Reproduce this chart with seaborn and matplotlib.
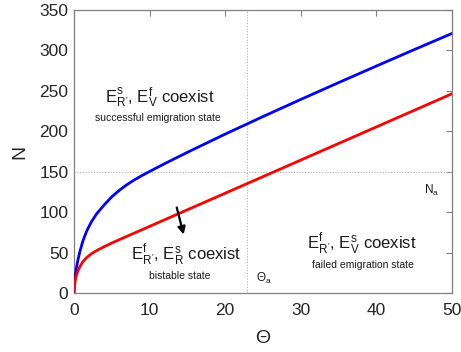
import matplotlib
matplotlib.use("Agg")
import matplotlib.pyplot as plt
import seaborn as sns
import pandas as pd

theta = [0, 0.05, 0.15, 0.3, 0.5, 0.8, 1.2, 1.7, 2.3, 3, 4, 5, 6, 7, 8, 9, 10, 12, 15, 20, 25, 30, 35, 40, 45, 50]
n_blue = [0, 11, 20, 30, 40, 52, 65, 77, 88, 98, 109, 119, 127, 134, 140, 145.3, 150.3, 160, 174, 196.5, 218.2,
          239.4, 260.2, 280.7, 301, 321]
n_red = [0, 8, 15, 21, 27, 33, 39, 44, 48.5, 52.5, 57.3, 61.8, 66, 70.1, 74.2, 78.3, 82.4, 90.6, 102.9, 123.4, 143.9,
         164.4, 184.9, 205.4, 225.9, 246.4]
theta_a = 22.9
n_a = 150
x_ticks = [0, 10, 20, 30, 40, 50]
y_ticks = [0, 50, 100, 150, 200, 250, 300, 350]

sns.set_style("white")
plt.rcParams['font.family'] = ['Liberation Sans', 'DejaVu Sans']
plt.rcParams['mathtext.fontset'] = 'custom'
plt.rcParams['mathtext.rm'] = 'Liberation Sans'
plt.rcParams['mathtext.it'] = 'Liberation Sans'
plt.rcParams['mathtext.bf'] = 'Liberation Sans:bold'

df = pd.DataFrame({"theta": theta, "blue": n_blue, "red": n_red})

fig = plt.figure(figsize=(4.61, 3.52), dpi=100)
ax = fig.add_axes([0.1605, 0.1676, 0.82, 0.804])

ax.axvline(theta_a, color="#b0b0b0", lw=0.8, ls=(0, (1, 1.5)), zorder=1)
ax.axhline(n_a, color="#b0b0b0", lw=0.8, ls=(0, (1, 1.5)), zorder=1)

sns.lineplot(data=df, x="theta", y="blue", color=(0, 0, 1), lw=2.0, sort=False, estimator=None, ax=ax, zorder=3)
sns.lineplot(data=df, x="theta", y="red", color=(1, 0, 0), lw=2.0, sort=False, estimator=None, ax=ax, zorder=3)

ax.set_xlim(0, 50)
ax.set_ylim(0, 350)
ax.set_xticks(x_ticks)
ax.set_yticks(y_ticks)
ax.tick_params(direction="in", length=4, width=0.8, color="#808080", labelsize=12.5,
               labelcolor="#262626", top=True, right=True)
ax.tick_params(axis="x", pad=7)
ax.tick_params(axis="y", pad=4)
for s in ax.spines.values():
    s.set_color("#808080")
    s.set_linewidth(0.9)
ax.set_xlabel(r"$\Theta$", fontsize=14, color="#262626", labelpad=9)
ax.set_ylabel("N", fontsize=14, color="#262626", labelpad=8)

tc = "#1a1a1a"
ax.text(11.4, 242, r"E$^{s}_{R'}$, E$^{f}_{V}$ coexist", ha="center", va="center", fontsize=12, color=tc)
ax.text(11.1, 216, "successful emigration state", ha="center", va="center", fontsize=7.5, color=tc)
ax.text(14.9, 48, r"E$^{f}_{R'}$, E$^{s}_{R}$ coexist", ha="center", va="center", fontsize=12, color=tc)
ax.text(14.0, 21, "bistable state", ha="center", va="center", fontsize=7.5, color=tc)
ax.text(38.1, 62, r"E$^{f}_{R'}$, E$^{s}_{V}$ coexist", ha="center", va="center", fontsize=12, color=tc)
ax.text(38.2, 35, "failed emigration state", ha="center", va="center", fontsize=7.5, color=tc)
ax.text(24.1, 18, r"$\Theta_a$", ha="left", va="center", fontsize=8.5, color=tc)
ax.text(46.3, 127, r"N$_a$", ha="left", va="center", fontsize=8.5, color=tc)

ax.annotate("", xy=(14.6, 69), xytext=(13.5, 109),
            arrowprops=dict(arrowstyle="-|>", color="black", lw=1.6, mutation_scale=11))

fig.savefig("out.png", dpi=100)
